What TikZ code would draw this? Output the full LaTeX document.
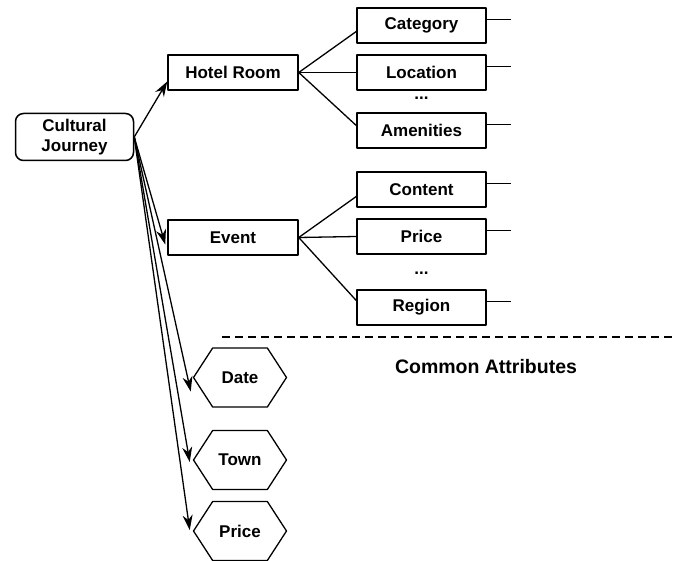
\documentclass[tikz,border=0pt]{standalone}
\usepackage{fontspec}
\setmainfont{Liberation Sans}
\usetikzlibrary{calc, arrows.meta, shapes.symbols}

\tikzset{
    attrbox/.style={draw, line width=1.5pt, minimum width=129pt, minimum height=35pt, inner sep=0pt},
    rootbox/.style={draw, line width=1.5pt, rounded corners=8pt, minimum width=118pt, minimum height=47pt, inner sep=0pt, align=center},
    hexbox/.style={draw, line width=1.3pt, shape=signal, signal to=west and east, signal pointer angle=114, minimum width=93pt, minimum height=59pt, inner sep=0pt},
    link/.style={line width=1.3pt},
    arrowlink/.style={line width=1.3pt, -{Stealth[length=15pt, width=10pt]}}
}

\begin{document}
\begin{tikzpicture}[x=1pt, y=-1pt, line join=round,
    font=\fontsize{17}{20}\selectfont\bfseries]
    \useasboundingbox (0,0) rectangle (682,561);

    % 根节点与两类对象
    \node[rootbox] (cj) at (74.5,137) {Cultural\\Journey};
    \node[attrbox, minimum width=130pt] (hotel) at (233,72.5) {Hotel Room};
    \node[attrbox, minimum width=130pt] (event) at (233,237.5) {Event};

    % Hotel Room 的属性
    \node[attrbox] (cat) at (421.5,25.5) {Category};
    \node[attrbox] (loc) at (421.5,72.5) {Location};
    \node (dots1) at (421.5,98) {...};
    \node[attrbox] (amen) at (421.5,130.5) {Amenities};

    % Event 的属性
    \node[attrbox] (cont) at (421.5,189.5) {Content};
    \node[attrbox] (evprice) at (421.5,236.5) {Price};
    \node (dots2) at (421.5,273) {...};
    \node[attrbox] (reg) at (421.5,307.5) {Region};

    % 分隔线与公共属性
    \coordinate (L1) at (222,337);
    \coordinate (L2) at (676,337);
    \draw[line width=1.3pt, dash pattern=on 8pt off 5pt] (L1) -- (L2);
    \node[font=\fontsize{19.5}{22}\selectfont\bfseries] (common) at (486,367) {Common Attributes};

    \node[hexbox] (date) at (240,377.5) {Date};
    \node[hexbox] (town) at (240,460) {Town};
    \node[hexbox] (cprice) at (240,531) {Price};

    % 对象到属性的连线
    \draw[link] (hotel.east) -- ($(cat.west)+(0,6)$);
    \draw[link] (hotel.east) -- (loc.west);
    \draw[link] (hotel.east) -- ($(amen.west)+(0,-5)$);
    \draw[link] (event.east) -- ($(cont.west)+(0,7)$);
    \draw[link] (event.east) -- (evprice.west);
    \draw[link] (event.east) -- ($(reg.west)+(0,-7)$);

    % 右侧短线
    \foreach \a in {cat, loc, amen, cont, evprice, reg} {
        \coordinate (\a-end) at ($(\a.east)+(24,-6)$);
        \draw[link] ($(\a.east)+(0,-6)$) -- (\a-end);
    }

    % 根节点出发的箭头
    \coordinate (cjout) at (cj.east);
    \draw[arrowlink] (cjout) -- ($(hotel.west)+(0,9)$);
    \draw[arrowlink] (cjout) -- ($(event.west)+(-2,7)$);
    \draw[arrowlink] (cjout) -- ($(date.west)+(-2,14)$);
    \draw[arrowlink] (cjout) -- ($(town.west)+(-3,2)$);
    \draw[arrowlink] (cjout) -- ($(cprice.west)+(-3,-1)$);
\end{tikzpicture}
\end{document}
